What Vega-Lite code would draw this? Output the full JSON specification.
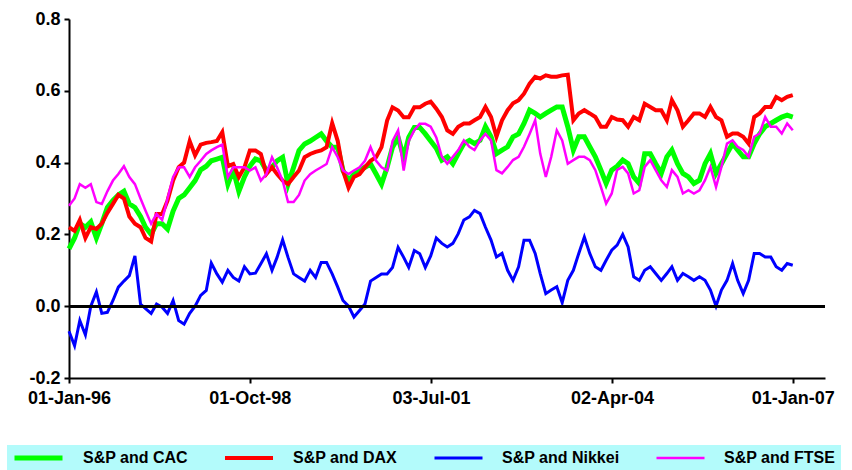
{
  "$schema": "https://vega.github.io/schema/vega-lite/v6.json",
  "width": 756,
  "height": 359,
  "autosize": "none",
  "padding": {"left": 69, "top": 19, "right": 27, "bottom": 92},
  "background": "white",
  "config": {
    "view": {"stroke": null},
    "axis": {
      "domainColor": "black", "domainWidth": 2,
      "tickColor": "black", "tickWidth": 2, "tickSize": 5,
      "labelFont": "Liberation Sans", "labelFontWeight": "bold", "labelFontSize": 18,
      "labelColor": "black", "grid": false, "title": null, "labelFlush": false
    }
  },
  "datasets": {
    "corr": [
      {"d":"1996-01-01","cac":0.16,"dax":0.22,"nik":-0.07,"ftse":0.28},
      {"d":"1996-02-01","cac":0.19,"dax":0.21,"nik":-0.11,"ftse":0.30},
      {"d":"1996-03-01","cac":0.23,"dax":0.24,"nik":-0.04,"ftse":0.34},
      {"d":"1996-04-01","cac":0.22,"dax":0.19,"nik":-0.08,"ftse":0.33},
      {"d":"1996-05-01","cac":0.235,"dax":0.22,"nik":0.0,"ftse":0.34},
      {"d":"1996-06-01","cac":0.19,"dax":0.215,"nik":0.04,"ftse":0.29},
      {"d":"1996-07-01","cac":0.23,"dax":0.23,"nik":-0.02,"ftse":0.285},
      {"d":"1996-08-01","cac":0.275,"dax":0.26,"nik":-0.017,"ftse":0.32},
      {"d":"1996-09-01","cac":0.295,"dax":0.285,"nik":0.016,"ftse":0.35},
      {"d":"1996-10-01","cac":0.31,"dax":0.31,"nik":0.053,"ftse":0.368},
      {"d":"1996-11-01","cac":0.32,"dax":0.30,"nik":0.07,"ftse":0.39},
      {"d":"1996-12-01","cac":0.285,"dax":0.25,"nik":0.085,"ftse":0.36},
      {"d":"1997-01-01","cac":0.275,"dax":0.23,"nik":0.14,"ftse":0.34},
      {"d":"1997-02-01","cac":0.25,"dax":0.22,"nik":0.006,"ftse":0.30},
      {"d":"1997-03-01","cac":0.22,"dax":0.19,"nik":-0.007,"ftse":0.266},
      {"d":"1997-04-01","cac":0.20,"dax":0.18,"nik":-0.02,"ftse":0.23},
      {"d":"1997-05-01","cac":0.23,"dax":0.257,"nik":0.006,"ftse":0.257},
      {"d":"1997-06-01","cac":0.23,"dax":0.257,"nik":-0.003,"ftse":0.24},
      {"d":"1997-07-01","cac":0.215,"dax":0.294,"nik":-0.02,"ftse":0.30},
      {"d":"1997-08-01","cac":0.265,"dax":0.35,"nik":0.016,"ftse":0.36},
      {"d":"1997-09-01","cac":0.30,"dax":0.387,"nik":-0.04,"ftse":0.387},
      {"d":"1997-10-01","cac":0.31,"dax":0.40,"nik":-0.05,"ftse":0.387},
      {"d":"1997-11-01","cac":0.33,"dax":0.46,"nik":-0.02,"ftse":0.36},
      {"d":"1997-12-01","cac":0.35,"dax":0.42,"nik":0.0,"ftse":0.387},
      {"d":"1998-01-01","cac":0.38,"dax":0.45,"nik":0.03,"ftse":0.405},
      {"d":"1998-02-01","cac":0.39,"dax":0.455,"nik":0.044,"ftse":0.424},
      {"d":"1998-03-01","cac":0.405,"dax":0.457,"nik":0.12,"ftse":0.434},
      {"d":"1998-04-01","cac":0.41,"dax":0.46,"nik":0.09,"ftse":0.443},
      {"d":"1998-05-01","cac":0.415,"dax":0.485,"nik":0.067,"ftse":0.45},
      {"d":"1998-06-01","cac":0.34,"dax":0.39,"nik":0.10,"ftse":0.36},
      {"d":"1998-07-01","cac":0.38,"dax":0.396,"nik":0.08,"ftse":0.387},
      {"d":"1998-08-01","cac":0.32,"dax":0.36,"nik":0.07,"ftse":0.387},
      {"d":"1998-09-01","cac":0.36,"dax":0.387,"nik":0.11,"ftse":0.387},
      {"d":"1998-10-01","cac":0.39,"dax":0.434,"nik":0.09,"ftse":0.378},
      {"d":"1998-11-01","cac":0.41,"dax":0.434,"nik":0.092,"ftse":0.387},
      {"d":"1998-12-01","cac":0.405,"dax":0.424,"nik":0.118,"ftse":0.35},
      {"d":"1999-01-01","cac":0.378,"dax":0.368,"nik":0.146,"ftse":0.368},
      {"d":"1999-02-01","cac":0.387,"dax":0.387,"nik":0.10,"ftse":0.415},
      {"d":"1999-03-01","cac":0.405,"dax":0.368,"nik":0.136,"ftse":0.387},
      {"d":"1999-04-01","cac":0.415,"dax":0.35,"nik":0.185,"ftse":0.35},
      {"d":"1999-05-01","cac":0.34,"dax":0.34,"nik":0.136,"ftse":0.29},
      {"d":"1999-06-01","cac":0.387,"dax":0.36,"nik":0.09,"ftse":0.29},
      {"d":"1999-07-01","cac":0.434,"dax":0.378,"nik":0.08,"ftse":0.31},
      {"d":"1999-08-01","cac":0.452,"dax":0.415,"nik":0.07,"ftse":0.35},
      {"d":"1999-09-01","cac":0.46,"dax":0.424,"nik":0.10,"ftse":0.368},
      {"d":"1999-10-01","cac":0.47,"dax":0.43,"nik":0.08,"ftse":0.378},
      {"d":"1999-11-01","cac":0.48,"dax":0.434,"nik":0.122,"ftse":0.387},
      {"d":"1999-12-01","cac":0.46,"dax":0.443,"nik":0.122,"ftse":0.396},
      {"d":"2000-01-01","cac":0.443,"dax":0.51,"nik":0.09,"ftse":0.443},
      {"d":"2000-02-01","cac":0.443,"dax":0.46,"nik":0.053,"ftse":0.415},
      {"d":"2000-03-01","cac":0.378,"dax":0.378,"nik":0.016,"ftse":0.378},
      {"d":"2000-04-01","cac":0.35,"dax":0.33,"nik":0.0,"ftse":0.368},
      {"d":"2000-05-01","cac":0.368,"dax":0.36,"nik":-0.03,"ftse":0.378},
      {"d":"2000-06-01","cac":0.378,"dax":0.368,"nik":-0.012,"ftse":0.387},
      {"d":"2000-07-01","cac":0.387,"dax":0.387,"nik":0.006,"ftse":0.405},
      {"d":"2000-08-01","cac":0.396,"dax":0.405,"nik":0.07,"ftse":0.443},
      {"d":"2000-09-01","cac":0.368,"dax":0.415,"nik":0.08,"ftse":0.405},
      {"d":"2000-10-01","cac":0.34,"dax":0.443,"nik":0.09,"ftse":0.387},
      {"d":"2000-11-01","cac":0.387,"dax":0.517,"nik":0.09,"ftse":0.378},
      {"d":"2000-12-01","cac":0.443,"dax":0.554,"nik":0.108,"ftse":0.46},
      {"d":"2001-01-01","cac":0.47,"dax":0.545,"nik":0.164,"ftse":0.49},
      {"d":"2001-02-01","cac":0.415,"dax":0.526,"nik":0.136,"ftse":0.378},
      {"d":"2001-03-01","cac":0.47,"dax":0.526,"nik":0.108,"ftse":0.46},
      {"d":"2001-04-01","cac":0.498,"dax":0.554,"nik":0.155,"ftse":0.49},
      {"d":"2001-05-01","cac":0.498,"dax":0.554,"nik":0.146,"ftse":0.508},
      {"d":"2001-06-01","cac":0.48,"dax":0.564,"nik":0.108,"ftse":0.508},
      {"d":"2001-07-01","cac":0.46,"dax":0.57,"nik":0.14,"ftse":0.50},
      {"d":"2001-08-01","cac":0.44,"dax":0.55,"nik":0.19,"ftse":0.47},
      {"d":"2001-09-01","cac":0.407,"dax":0.527,"nik":0.175,"ftse":0.416},
      {"d":"2001-10-01","cac":0.416,"dax":0.49,"nik":0.165,"ftse":0.397},
      {"d":"2001-11-01","cac":0.397,"dax":0.48,"nik":0.175,"ftse":0.416},
      {"d":"2001-12-01","cac":0.425,"dax":0.50,"nik":0.202,"ftse":0.435},
      {"d":"2002-01-01","cac":0.453,"dax":0.509,"nik":0.24,"ftse":0.462},
      {"d":"2002-02-01","cac":0.462,"dax":0.509,"nik":0.249,"ftse":0.444},
      {"d":"2002-03-01","cac":0.453,"dax":0.518,"nik":0.267,"ftse":0.435},
      {"d":"2002-04-01","cac":0.462,"dax":0.527,"nik":0.258,"ftse":0.462},
      {"d":"2002-05-01","cac":0.50,"dax":0.555,"nik":0.22,"ftse":0.48},
      {"d":"2002-06-01","cac":0.472,"dax":0.527,"nik":0.184,"ftse":0.462},
      {"d":"2002-07-01","cac":0.425,"dax":0.472,"nik":0.137,"ftse":0.379},
      {"d":"2002-08-01","cac":0.435,"dax":0.518,"nik":0.147,"ftse":0.37},
      {"d":"2002-09-01","cac":0.444,"dax":0.546,"nik":0.10,"ftse":0.388},
      {"d":"2002-10-01","cac":0.472,"dax":0.565,"nik":0.072,"ftse":0.407},
      {"d":"2002-11-01","cac":0.48,"dax":0.574,"nik":0.11,"ftse":0.416},
      {"d":"2002-12-01","cac":0.509,"dax":0.592,"nik":0.184,"ftse":0.444},
      {"d":"2003-01-01","cac":0.546,"dax":0.62,"nik":0.184,"ftse":0.48},
      {"d":"2003-02-01","cac":0.537,"dax":0.639,"nik":0.147,"ftse":0.518},
      {"d":"2003-03-01","cac":0.527,"dax":0.634,"nik":0.091,"ftse":0.425},
      {"d":"2003-04-01","cac":0.537,"dax":0.643,"nik":0.035,"ftse":0.36},
      {"d":"2003-05-01","cac":0.546,"dax":0.639,"nik":0.045,"ftse":0.416},
      {"d":"2003-06-01","cac":0.555,"dax":0.639,"nik":0.054,"ftse":0.49},
      {"d":"2003-07-01","cac":0.555,"dax":0.643,"nik":0.01,"ftse":0.462},
      {"d":"2003-08-01","cac":0.50,"dax":0.645,"nik":0.072,"ftse":0.397},
      {"d":"2003-09-01","cac":0.435,"dax":0.518,"nik":0.10,"ftse":0.407},
      {"d":"2003-10-01","cac":0.472,"dax":0.537,"nik":0.147,"ftse":0.416},
      {"d":"2003-11-01","cac":0.472,"dax":0.546,"nik":0.193,"ftse":0.416},
      {"d":"2003-12-01","cac":0.444,"dax":0.537,"nik":0.147,"ftse":0.407},
      {"d":"2004-01-01","cac":0.416,"dax":0.527,"nik":0.11,"ftse":0.379},
      {"d":"2004-02-01","cac":0.379,"dax":0.50,"nik":0.10,"ftse":0.332},
      {"d":"2004-03-01","cac":0.342,"dax":0.50,"nik":0.128,"ftse":0.286},
      {"d":"2004-04-01","cac":0.379,"dax":0.527,"nik":0.156,"ftse":0.314},
      {"d":"2004-05-01","cac":0.39,"dax":0.52,"nik":0.17,"ftse":0.38},
      {"d":"2004-06-01","cac":0.407,"dax":0.518,"nik":0.20,"ftse":0.388},
      {"d":"2004-07-01","cac":0.397,"dax":0.50,"nik":0.165,"ftse":0.37},
      {"d":"2004-08-01","cac":0.36,"dax":0.527,"nik":0.082,"ftse":0.314},
      {"d":"2004-09-01","cac":0.342,"dax":0.518,"nik":0.072,"ftse":0.323},
      {"d":"2004-10-01","cac":0.425,"dax":0.564,"nik":0.10,"ftse":0.388},
      {"d":"2004-11-01","cac":0.425,"dax":0.555,"nik":0.11,"ftse":0.407},
      {"d":"2004-12-01","cac":0.397,"dax":0.546,"nik":0.091,"ftse":0.379},
      {"d":"2005-01-01","cac":0.37,"dax":0.546,"nik":0.072,"ftse":0.351},
      {"d":"2005-02-01","cac":0.416,"dax":0.518,"nik":0.091,"ftse":0.332},
      {"d":"2005-03-01","cac":0.435,"dax":0.574,"nik":0.11,"ftse":0.379},
      {"d":"2005-04-01","cac":0.397,"dax":0.546,"nik":0.072,"ftse":0.36},
      {"d":"2005-05-01","cac":0.37,"dax":0.50,"nik":0.091,"ftse":0.314},
      {"d":"2005-06-01","cac":0.36,"dax":0.518,"nik":0.082,"ftse":0.323},
      {"d":"2005-07-01","cac":0.342,"dax":0.537,"nik":0.072,"ftse":0.314},
      {"d":"2005-08-01","cac":0.351,"dax":0.537,"nik":0.082,"ftse":0.323},
      {"d":"2005-09-01","cac":0.397,"dax":0.527,"nik":0.072,"ftse":0.351},
      {"d":"2005-10-01","cac":0.425,"dax":0.555,"nik":0.045,"ftse":0.388},
      {"d":"2005-11-01","cac":0.37,"dax":0.527,"nik":0.0,"ftse":0.332},
      {"d":"2005-12-01","cac":0.397,"dax":0.518,"nik":0.045,"ftse":0.388},
      {"d":"2006-01-01","cac":0.425,"dax":0.472,"nik":0.072,"ftse":0.453},
      {"d":"2006-02-01","cac":0.453,"dax":0.481,"nik":0.119,"ftse":0.462},
      {"d":"2006-03-01","cac":0.435,"dax":0.481,"nik":0.072,"ftse":0.444},
      {"d":"2006-04-01","cac":0.416,"dax":0.472,"nik":0.035,"ftse":0.435},
      {"d":"2006-05-01","cac":0.416,"dax":0.453,"nik":0.072,"ftse":0.416},
      {"d":"2006-06-01","cac":0.453,"dax":0.527,"nik":0.147,"ftse":0.472},
      {"d":"2006-07-01","cac":0.48,"dax":0.537,"nik":0.147,"ftse":0.481},
      {"d":"2006-08-01","cac":0.50,"dax":0.555,"nik":0.137,"ftse":0.527},
      {"d":"2006-09-01","cac":0.509,"dax":0.555,"nik":0.137,"ftse":0.50},
      {"d":"2006-10-01","cac":0.518,"dax":0.583,"nik":0.11,"ftse":0.50},
      {"d":"2006-11-01","cac":0.527,"dax":0.574,"nik":0.10,"ftse":0.481},
      {"d":"2006-12-01","cac":0.532,"dax":0.583,"nik":0.119,"ftse":0.509},
      {"d":"2007-01-01","cac":0.527,"dax":0.588,"nik":0.114,"ftse":0.49}
    ]
  },
  "data": {"name": "corr"},
  "layer": [
    {
      "transform": [{"fold": ["cac", "dax", "nik", "ftse"], "as": ["pair", "value"]}],
      "mark": {"type": "line", "interpolate": "linear"},
      "encoding": {
        "x": {
          "field": "d",
          "type": "temporal",
          "scale": {
            "type": "utc",
            "domain": [
              {"year": 1996, "month": 1, "date": 1, "utc": true},
              {"year": 2007, "month": 6, "date": 29, "utc": true}
            ]
          },
          "axis": {
            "values": [
              {"year": 1996, "month": 1, "date": 1, "utc": true},
              {"year": 1998, "month": 10, "date": 1, "utc": true},
              {"year": 2001, "month": 7, "date": 3, "utc": true},
              {"year": 2004, "month": 4, "date": 2, "utc": true},
              {"year": 2007, "month": 1, "date": 1, "utc": true}
            ],
            "labelExpr": "utcFormat(datum.value, '%d-%b-%y')",
            "labelPadding": 6
          }
        },
        "y": {
          "field": "value",
          "type": "quantitative",
          "scale": {"domain": [-0.2, 0.8], "nice": false, "zero": false},
          "axis": {
            "values": [-0.2, -0.1, 0, 0.1, 0.2, 0.3, 0.4, 0.5, 0.6, 0.7, 0.8],
            "labelExpr": "abs(round(datum.value * 10)) % 2 == 0 ? replace(format(datum.value, '.1f'), '\u2212', '-') : ''",
            "labelPadding": 4
          }
        },
        "color": {
          "field": "pair",
          "type": "nominal",
          "scale": {
            "domain": ["cac", "dax", "nik", "ftse"],
            "range": ["#00ff00", "#ff0000", "#0000ff", "#ff00ff"]
          },
          "legend": {
            "orient": "none",
            "direction": "horizontal",
            "legendX": -62,
            "legendY": 426,
            "title": null,
            "labelExpr": "{'cac': 'S&P and CAC', 'dax': 'S&P and DAX', 'nik': 'S&P and Nikkei', 'ftse': 'S&P and FTSE'}[datum.label]",
            "symbolType": "stroke",
            "symbolSize": 2304,
            "symbolStrokeWidth": 5,
            "clipHeight": 16,
            "labelOffset": 18,
            "columnPadding": 35,
            "padding": 5,
            "fillColor": "#b3fbfb",
            "labelFont": "Liberation Sans",
            "labelFontWeight": "bold",
            "labelFontSize": 16,
            "labelColor": "black",
            "labelLimit": 300
          }
        },
        "strokeWidth": {
          "field": "pair",
          "type": "nominal",
          "scale": {"type": "ordinal", "domain": ["cac", "dax", "nik", "ftse"], "range": [5, 4, 3, 2.5]},
          "legend": null
        }
      }
    },
    {
      "mark": {"type": "rule", "color": "black", "strokeWidth": 2},
      "encoding": {"y": {"datum": 0}}
    }
  ]
}
